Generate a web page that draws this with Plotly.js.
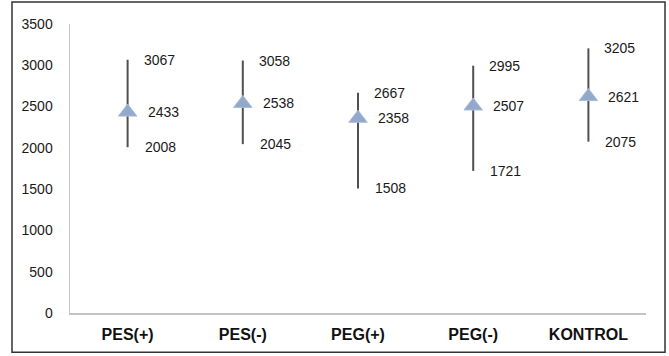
<!DOCTYPE html>
<html>
<head>
<meta charset="utf-8">
<script src="https://cdn.plot.ly/plotly-3.0.1.min.js"></script>
<style>html,body{margin:0;padding:0;background:#fff;}#chart{width:669px;height:356px;}</style>
</head>
<body>
<div id="chart"></div>
<script>
const categories = ["PES(+)", "PES(-)", "PEG(+)", "PEG(-)", "KONTROL"];
const maxValues  = [3067, 3058, 2667, 2995, 3205];
const meanValues = [2433, 2538, 2358, 2507, 2621];
const minValues  = [2008, 2045, 1508, 1721, 2075];
const yTicks = [0, 500, 1000, 1500, 2000, 2500, 3000, 3500];

const lineX = [], lineY = [];
categories.forEach((c, i) => {
  lineX.push(c, c, null);
  lineY.push(minValues[i], maxValues[i], null);
});

const numFont = {family: "Liberation Sans, Arial, sans-serif", size: 14, color: "#1a1a1a"};

const traces = [
  {x: lineX, y: lineY, mode: "lines", type: "scatter",
   line: {color: "#505050", width: 2}, hoverinfo: "skip", showlegend: false},
  {x: categories, y: meanValues, mode: "markers", type: "scatter",
   marker: {symbol: "triangle-up", size: 16, color: "#93a8cb",
            line: {color: "#a9bbd8", width: 1}},
   showlegend: false}
];

const annotations = [];
categories.forEach((c, i) => {
  annotations.push({x: c, y: maxValues[i], text: String(maxValues[i]), showarrow: false,
    xanchor: "left", yanchor: "middle", xshift: 14, font: numFont});
  annotations.push({x: c, y: meanValues[i], text: String(meanValues[i]), showarrow: false,
    xanchor: "left", yanchor: "middle", xshift: 18, font: numFont});
  annotations.push({x: c, y: minValues[i], text: String(minValues[i]), showarrow: false,
    xanchor: "left", yanchor: "middle", xshift: 15, font: numFont});
});

const layout = {
  width: 669, height: 356,
  margin: {l: 70, r: 23, t: 24, b: 43},
  paper_bgcolor: "#fff", plot_bgcolor: "#fff",
  showlegend: false,
  xaxis: {
    type: "category", categoryarray: categories, range: [-0.5, 4.5],
    showgrid: false, zeroline: false,
    showline: true, linecolor: "#c4c4c4", linewidth: 2,
    ticks: "", ticklabelstandoff: 6,
    tickfont: {family: "Liberation Sans, Arial, sans-serif", size: 16, color: "#111", weight: "bold"}
  },
  yaxis: {
    range: [0, 3500], tickvals: yTicks, ticktext: yTicks.map(String),
    showgrid: false, zeroline: false,
    showline: true, linecolor: "#c8c8c8", linewidth: 1.5,
    ticks: "", ticklabelstandoff: 13,
    tickfont: numFont
  },
  annotations: annotations,
  shapes: [{
    type: "rect", xref: "paper", yref: "paper",
    x0: -0.1007, x1: 1.0330, y0: -0.1355, y1: 1.0762,
    line: {color: "#333", width: 1.5}, fillcolor: "rgba(0,0,0,0)"
  }]
};

Plotly.newPlot("chart", traces, layout, {displayModeBar: false, staticPlot: true});
</script>
</body>
</html>
